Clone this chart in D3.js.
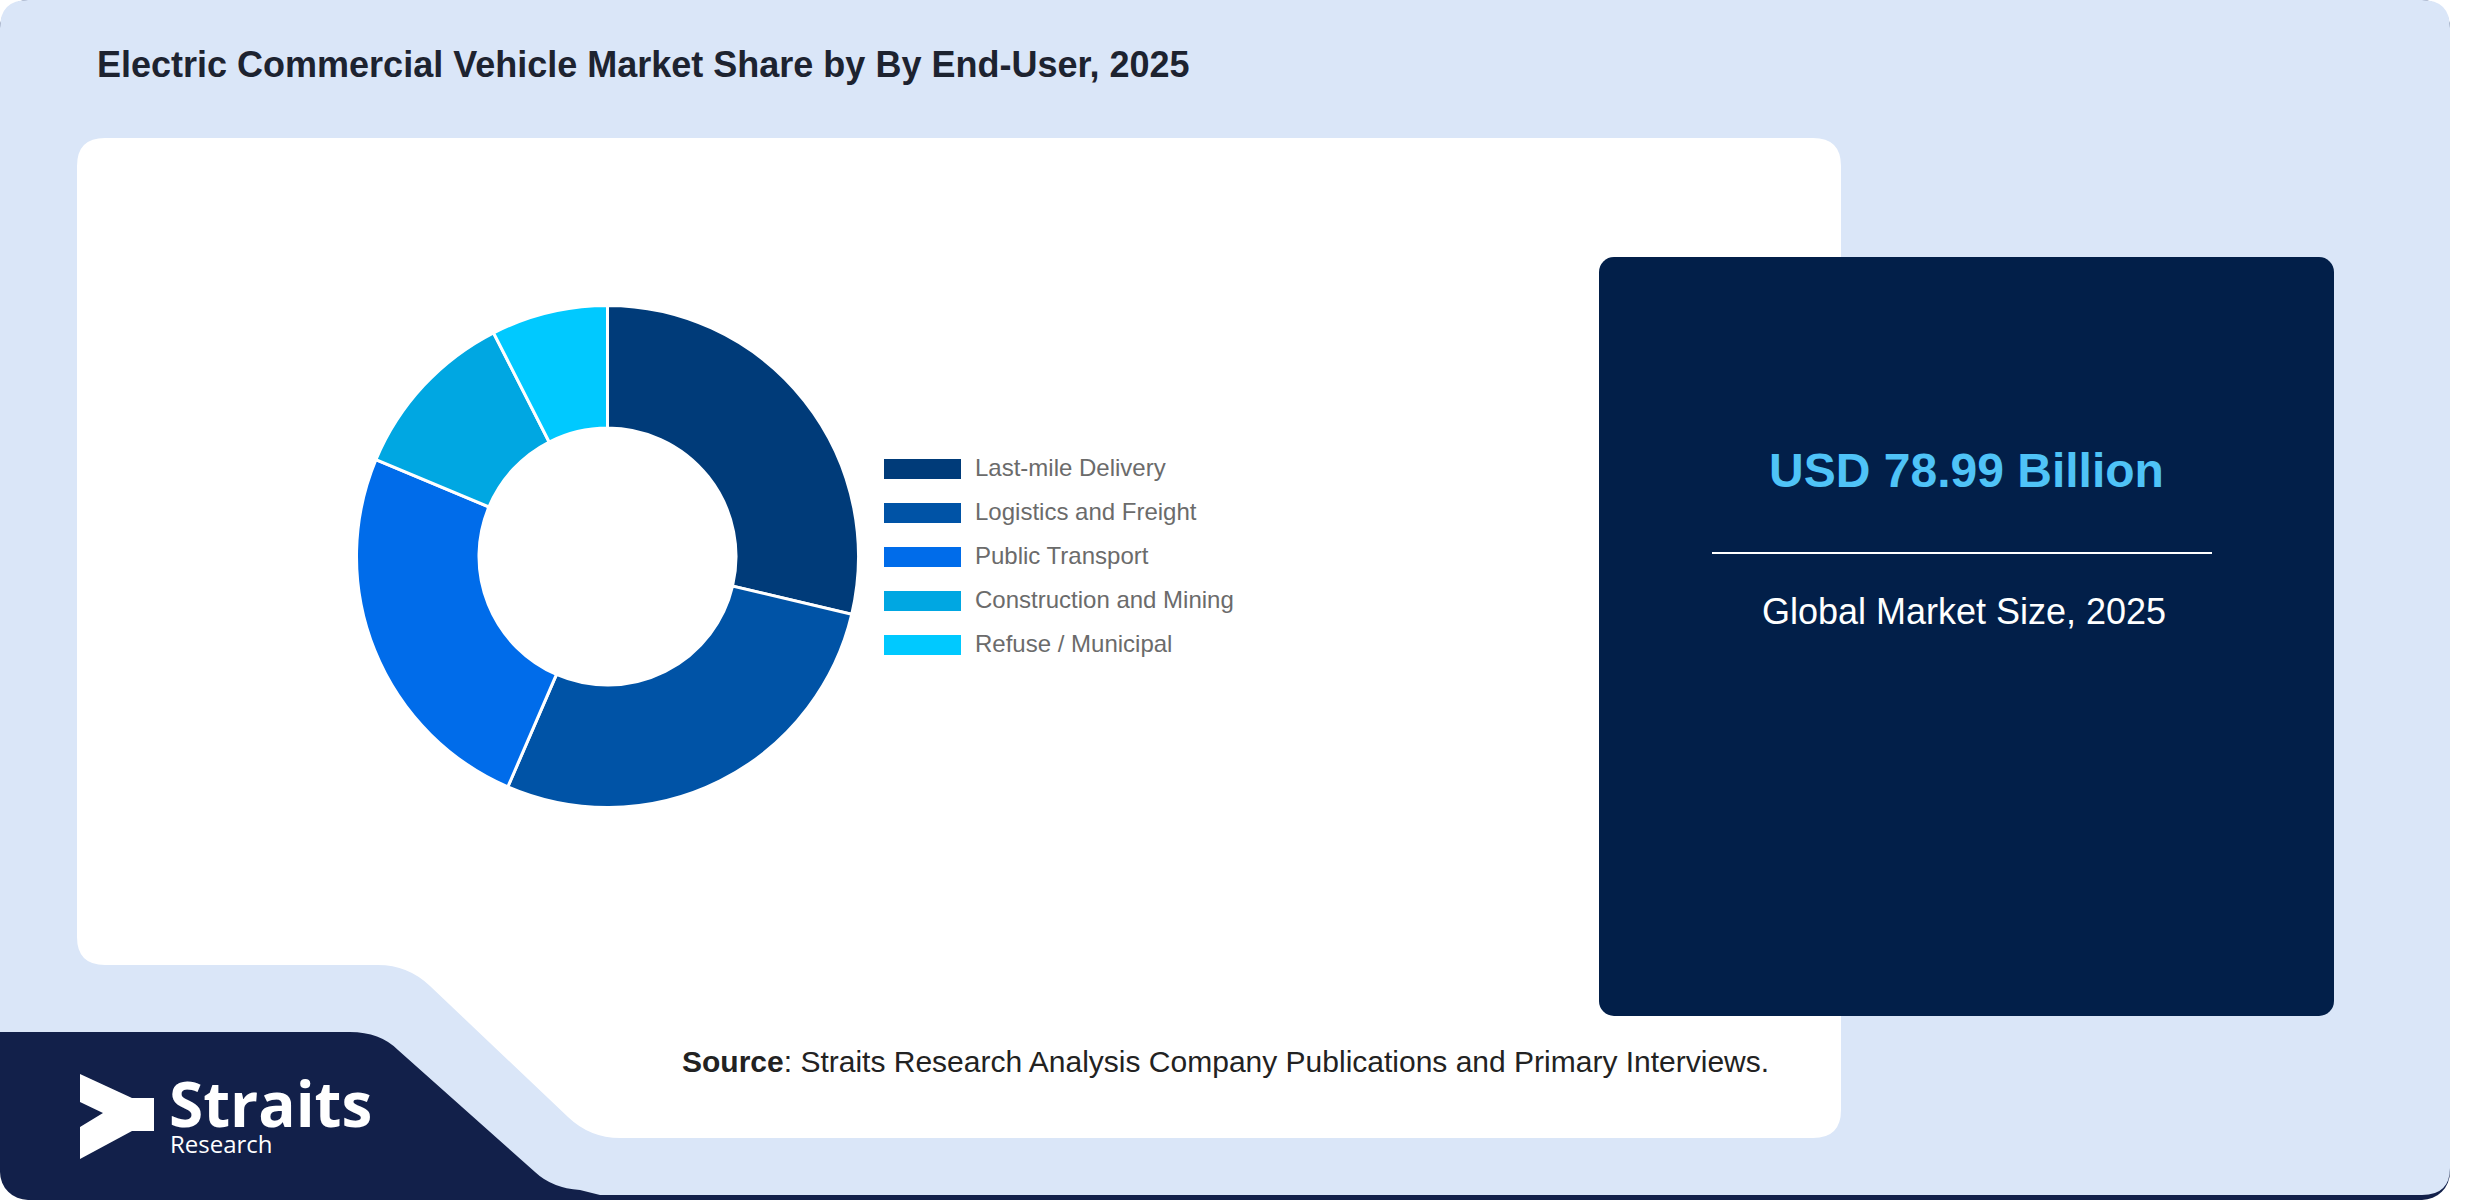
<!DOCTYPE html>
<html><head><meta charset="utf-8">
<script src="https://cdn.jsdelivr.net/npm/d3@7"></script>
<style>body{margin:0;background:#fff;} svg{display:block;}</style>
</head><body><svg id="c" width="2480" height="1200"></svg>
<script>
const categories = ["Last-mile Delivery","Logistics and Freight","Public Transport","Construction and Mining","Refuse / Municipal"];
const shares = [28.7, 27.8, 24.8, 11.2, 7.5];
const sliceColors = ["#003b79","#0053a6","#006cea","#00a7e2","#00c9ff"];
const chartTitle = "Electric Commercial Vehicle Market Share by By End-User, 2025";
const marketValue = "USD 78.99 Billion";
const marketLabel = "Global Market Size, 2025";
const sourceBold = "Source";
const sourceText = ": Straits Research Analysis Company Publications and Primary Interviews.";

const svg = d3.select("#c");

// outer dark base
svg.append("rect").attr("x",0).attr("y",0).attr("width",2450).attr("height",1200)
  .attr("rx",28).attr("fill","#12204a");

// light panel with logo cut-out
svg.append("path").attr("fill","#dae6f8").attr("d",
  "M0,28 Q0,0 28,0 H2422 Q2450,0 2450,28 V1168 Q2450,1195 2422,1195 H600 L580,1190 Q552,1188 535,1172 L398,1050 Q380,1032 350,1032 H0 Z");

// white chart panel with notch
svg.append("path").attr("fill","#ffffff").attr("d",
  "M105,138 H1813 Q1841,138 1841,166 V1110 Q1841,1138 1813,1138 H620 Q590,1138 568,1117 L430,986 Q408,965 378,965 H105 Q77,965 77,937 V166 Q77,138 105,138 Z");

// title
svg.append("text").attr("x",97).attr("y",77)
  .attr("font-family","Liberation Sans, Arial, sans-serif").attr("font-weight","bold")
  .attr("font-size",36).attr("fill","#1d2330").text(chartTitle);

// donut
const cx = 607.5, cy = 556.5;
const pie = d3.pie().sort(null).value(d=>d);
const arc = d3.arc().innerRadius(128.5).outerRadius(251);
const color = d3.scaleOrdinal().domain(categories).range(sliceColors);
const g = svg.append("g").attr("transform",`translate(${cx},${cy})`);
g.selectAll("path").data(pie(shares)).join("path")
  .attr("d",arc).attr("fill",(d,i)=>color(categories[i]))
  .attr("stroke","#fff").attr("stroke-width",3);

// legend
const ly = d3.scaleBand().domain(categories).range([459, 459+44*5]).paddingInner(0);
const lg = svg.append("g");
lg.selectAll("rect").data(categories).join("rect")
  .attr("x",884).attr("y",d=>ly(d)).attr("width",77).attr("height",20)
  .attr("fill",d=>color(d));
lg.selectAll("text").data(categories).join("text")
  .attr("x",975).attr("y",d=>ly(d)+16.5)
  .attr("font-family","Liberation Sans, Arial, sans-serif").attr("font-size",24)
  .attr("fill","#6b6b6b").text(d=>d);

// source
const st = svg.append("text").attr("x",682).attr("y",1072)
  .attr("font-family","Liberation Sans, Arial, sans-serif").attr("font-size",30).attr("fill","#222");
st.append("tspan").attr("font-weight","bold").text(sourceBold);
st.append("tspan").text(sourceText);

// right dark panel
svg.append("rect").attr("x",1599).attr("y",257).attr("width",735).attr("height",759)
  .attr("rx",15).attr("fill","#021f49");
svg.append("text").attr("x",1966.5).attr("y",487).attr("text-anchor","middle")
  .attr("font-family","Liberation Sans, Arial, sans-serif").attr("font-weight","bold")
  .attr("font-size",48).attr("fill","#4fc3f7").text(marketValue);
svg.append("line").attr("x1",1712).attr("x2",2212).attr("y1",553).attr("y2",553)
  .attr("stroke","#fff").attr("stroke-width",2);
svg.append("text").attr("x",1964).attr("y",624).attr("text-anchor","middle")
  .attr("font-family","Liberation Sans, Arial, sans-serif")
  .attr("font-size",36).attr("fill","#fff").text(marketLabel);

// logo
svg.append("path").attr("fill","#fff")
  .attr("d","M80,1074 L132,1098 H154 V1131 H132 L80,1159 V1127 L103,1113 L80,1102 Z");
const logo = svg.append("text").attr("font-family","Open Sans, sans-serif").attr("fill","#fff");
logo.append("tspan").attr("x",169).attr("y",1127)
  .attr("font-weight","bold").attr("font-size",62).text("Straits");
logo.append("tspan").attr("x",170).attr("y",1153)
  .attr("font-size",24).text("Research");
</script></body></html>
